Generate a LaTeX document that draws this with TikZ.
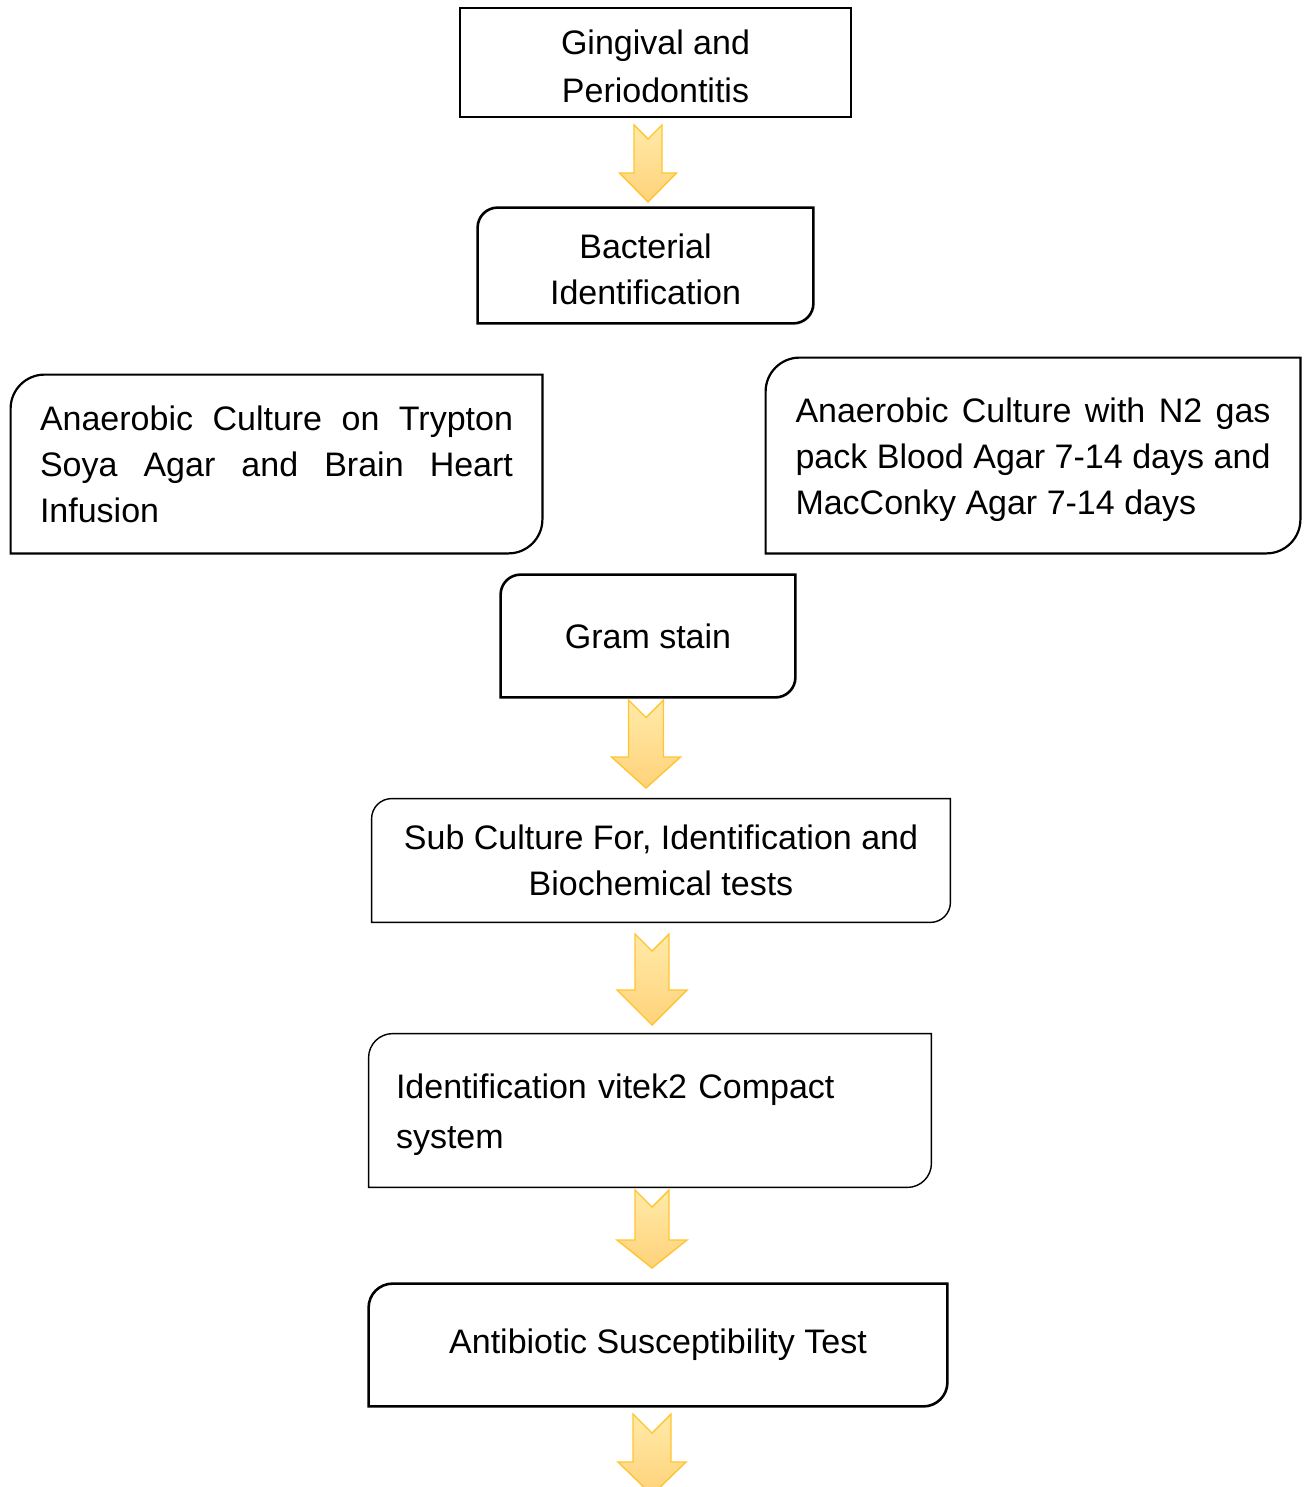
\documentclass[tikz,border=0pt]{standalone}
\usepackage{fontspec}
\setmainfont{Liberation Sans}
\definecolor{arrowtop}{HTML}{FFEAA8}
\definecolor{arrowbot}{HTML}{FFD27A}
\definecolor{arrowline}{HTML}{FFC531}
\tikzset{
  flowtext/.style={font=\fontsize{17}{23}\selectfont, inner sep=0pt},
  lowered/.style={execute at begin node=\strut},
  yarrow/.style={draw=arrowline, line width=0.7pt, line join=miter, top color=arrowtop, bottom color=arrowbot},
  thinframe/.style={line width=0.7pt},
  thickframe/.style={line width=1.3pt}
}
% block arrow: centre x, top, start of head, tip, shaft half width, head half width
\newcommand\blockarrow[6]{%
  \draw[yarrow] (#1-#5,#2) -- (#1,#2+#5) -- (#1+#5,#2) -- (#1+#5,#3) -- (#1+#6,#3)
    -- (#1,#4) -- (#1-#6,#3) -- (#1-#5,#3) -- cycle;}
% frame with round top-left and bottom-right corners
\newcommand\diagframe[3]{%
  \draw[#3] ([yshift=-#2]#1.north west) arc[start angle=180, end angle=90, radius=#2]
    -- (#1.north east) -- ([yshift=#2]#1.south east) arc[start angle=0, end angle=-90, radius=#2]
    -- (#1.south west) -- cycle;}
\begin{document}
\begin{tikzpicture}[x=0.5pt, y=-0.5pt]
\useasboundingbox (0,0) rectangle (1305,1487);

% Boxes
\node[flowtext, draw, thinframe, minimum width=195.5pt, minimum height=54.5pt, align=center] (gingival) at (655.5,62.5)
  {\strut Gingival and\\[1pt] Periodontitis};
\node[flowtext, minimum width=167.5pt, minimum height=57.5pt, align=center] (bacterial) at (645.5,265.5)
  {\strut Bacterial\\ Identification};
\node[flowtext, minimum width=265.5pt, minimum height=89pt, text width=236.5pt, align=justify] (trypton) at (276.5,464)
  {Anaerobic Culture on Trypton\linebreak Soya Agar and Brain Heart\linebreak Infusion};
\node[flowtext, lowered, minimum width=267pt, minimum height=97.5pt, text width=237.5pt, align=justify] (nitrogen) at (1033,455.5)
  {Anaerobic Culture with N2 gas\linebreak pack Blood Agar 7-14 days and\linebreak MacConky Agar 7-14 days};
\node[flowtext, minimum width=147pt, minimum height=61pt] (gram) at (648,636) {Gram stain};
\node[flowtext, minimum width=289pt, minimum height=61.5pt, align=center] (subculture) at (661,860.5)
  {Sub Culture For, Identification and\\ Biochemical tests};
\node[flowtext, lowered, minimum width=281pt, minimum height=76.5pt, text width=254pt, align=left] (vitek) at (650,1110.5)
  {Identification vitek2 Compact\\[2pt] system};
\node[flowtext, minimum width=289pt, minimum height=61pt] (antibiotic) at (658,1345) {Antibiotic Susceptibility Test};

% Frames
\diagframe{bacterial}{10pt}{thickframe}
\diagframe{trypton}{17pt}{line width=1.1pt}
\diagframe{nitrogen}{17pt}{line width=1.1pt}
\diagframe{gram}{10pt}{thickframe}
\diagframe{subculture}{10pt}{thinframe}
\diagframe{vitek}{12pt}{thinframe}
\diagframe{antibiotic}{12pt}{thickframe}

% Arrows
\blockarrow{648}{125}{173}{202}{14}{28.5}
\blockarrow{646}{700}{757}{788}{17.5}{34.5}
\blockarrow{652}{934}{990}{1025}{17}{35}
\blockarrow{652}{1190}{1240}{1268}{17}{35}
\blockarrow{652}{1414}{1462}{1495}{19}{34}
\end{tikzpicture}
\end{document}
